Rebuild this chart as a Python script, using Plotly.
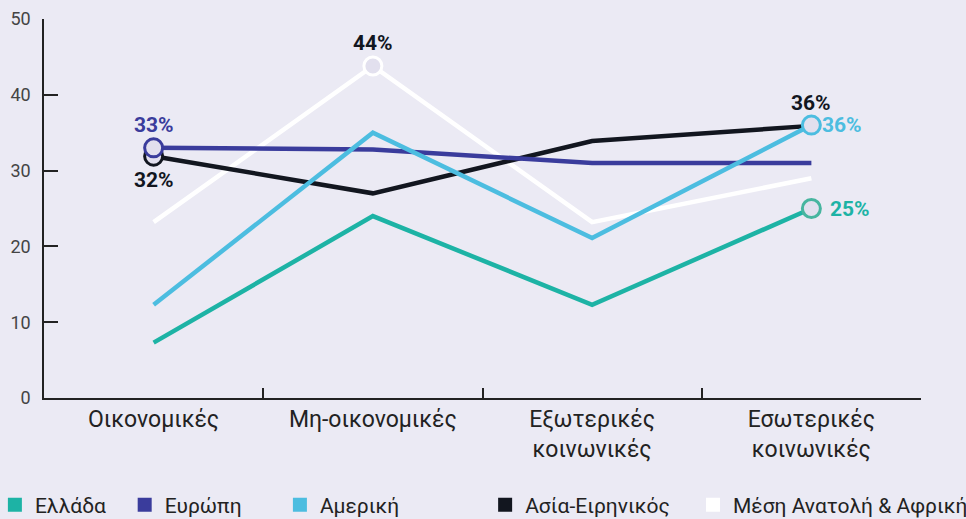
import plotly.graph_objects as go

categories = ["Οικονομικές", "Μη-οικονομικές", "Εξωτερικές<br>κοινωνικές", "Εσωτερικές<br>κοινωνικές"]

greece = [7.3, 24, 12.3, 25]
europe = [33, 32.8, 31, 31]
america = [12.3, 35, 21.1, 36]
asia = [31.9, 27, 33.9, 35.9]
mideast = [23.2, 43.8, 23.2, 29]

BG = "#ebeaf4"
FILL = "#e2e0ee"
FONT = "Roboto, Arial, sans-serif"

# name, values, line colour, marker outline, indexes with a circle
series = [
    ("Ελλάδα", greece, "#1db3a5", "#47b59f", [3]),
    ("Μέση Ανατολή & Αφρική", mideast, "#ffffff", "#ffffff", [1]),
    ("Ασία-Ειρηνικός", asia, "#12161f", "#12161f", [0]),
    ("Ευρώπη", europe, "#3a3c9c", "#3a3c9c", [0]),
    ("Αμερική", america, "#4cbde0", "#4cbde0", [3]),
]

fig = go.Figure()

# lines
for name, vals, col, _, _ in series:
    fig.add_trace(go.Scatter(x=categories, y=vals, mode="lines", name=name,
                             line=dict(color=col, width=4.5), showlegend=False,
                             cliponaxis=False, hoverinfo="skip"))

# open circle markers at labelled points
for name, vals, col, oc, idx in series:
    fig.add_trace(go.Scatter(x=[categories[i] for i in idx], y=[vals[i] for i in idx],
                             mode="markers", showlegend=False, cliponaxis=False,
                             marker=dict(size=18, color=FILL, line=dict(color=oc, width=3))))

# legend entries as squares, each in its own legend box (x in paper units)
legend_order = [("Ελλάδα", "#1db3a5", -0.056),
                ("Ευρώπη", "#3a3c9c", 0.092),
                ("Αμερική", "#4cbde0", 0.269),
                ("Ασία-Ειρηνικός", "#12161f", 0.503),
                ("Μέση Ανατολή & Αφρική", "#ffffff", 0.740)]
for i, (name, col, lx) in enumerate(legend_order):
    key = "legend" if i == 0 else f"legend{i+1}"
    fig.add_trace(go.Scatter(x=[categories[0]], y=[None], mode="markers", name=name, legend=key,
                             marker=dict(symbol="square", size=14, color=col, line=dict(width=0))))
    fig.update_layout({key: dict(x=lx, y=0.027, xref="paper", yref="container",
                                 xanchor="left", yanchor="middle", bgcolor="rgba(0,0,0,0)",
                                 font=dict(size=21, color="#222222", family=FONT),
                                 itemwidth=30, tracegroupgap=0)})

# value labels
labels = [
    (categories[0], europe[0], "33%", "#3a3c9c", 0, 23, "center"),
    (categories[0], asia[0], "32%", "#12161f", 0, -24, "center"),
    (categories[1], mideast[1], "44%", "#12161f", 0, 23, "center"),
    (categories[3], asia[3], "36%", "#12161f", 0, 23, "center"),
    (categories[3], america[3], "36%", "#4cbde0", 9, 0, "left"),
    (categories[3], greece[3], "25%", "#1db3a5", 17, 0, "left"),
]
for x, y, t, c, xs, ys, anc in labels:
    fig.add_annotation(x=x, y=y, text=f"<b>{t}</b>", showarrow=False, xanchor=anc,
                       xshift=xs, yshift=ys, font=dict(size=21, color=c, family=FONT))

fig.update_layout(
    width=966, height=519,
    paper_bgcolor=BG, plot_bgcolor=BG,
    margin=dict(l=44, r=45, t=19, b=121, autoexpand=False),
    font=dict(family=FONT, color="#222222"),
    xaxis=dict(type="category", range=[-0.5, 3.5], showgrid=False, showline=True,
               linecolor="#222222", linewidth=1.5, tickangle=0,
               ticks="inside", tickson="boundaries", ticklen=10, tickcolor="#222222", tickwidth=1.5,
               tickfont=dict(size=23, color="#222222"), fixedrange=True),
    yaxis=dict(range=[0, 50], dtick=10, showgrid=False, zeroline=False, showline=True,
               linecolor="#222222", linewidth=1.5, ticks="inside", ticklen=14,
               tickcolor="#222222", tickwidth=1.5, ticklabelstandoff=8,
               tickfont=dict(size=18, color="#444444"), fixedrange=True),
)

fig.write_html("out.html", config={"displayModeBar": False},
               post_script="document.body.style.margin='0';")
